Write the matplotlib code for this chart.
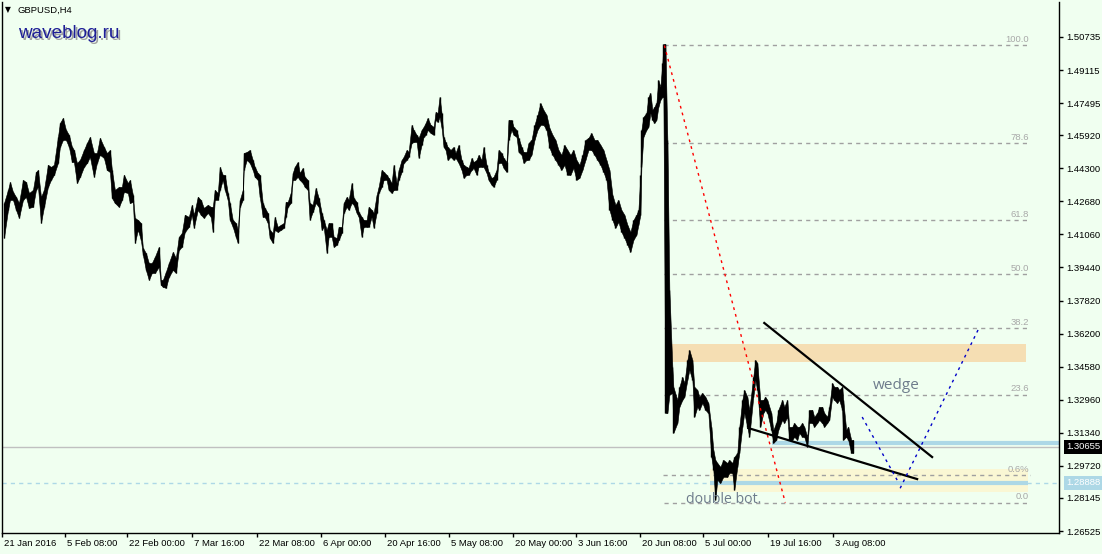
import numpy as np
import matplotlib
matplotlib.use("Agg")
import matplotlib.pyplot as plt
from matplotlib.transforms import blended_transform_factory, ScaledTranslation

plt.rcParams['font.family'] = ['Liberation Sans', 'DejaVu Sans']

# GBPUSD H4 - position of each sample (bar number) with high / low
bar_pos = [3, 7, 9, 12, 15, 18, 22, 25, 28, 32, 35, 37, 40, 43, 47, 50, 53, 57, 59, 62,
           65, 68, 71, 73, 76, 79, 83, 86, 89, 93, 96, 99, 103, 106, 109,
           111, 114, 118, 121, 123, 127, 129, 132, 134, 137, 140, 142, 145, 148, 151, 154, 158, 160, 162, 165,
           168, 172, 175, 178, 181, 184, 188, 191, 193, 197, 200, 203, 207, 210,
           212, 214, 217, 219, 222, 224, 227, 229, 232, 235, 237, 239, 242, 243, 246, 249, 252, 254, 257, 259,
           262, 264, 267, 269, 272, 274, 277, 280, 283, 285, 287, 290, 292, 294, 297, 299, 302, 304, 307, 309, 312,
           315, 318, 321, 323, 326, 328, 331, 333, 336, 338, 341, 343, 346, 348, 351, 353, 356, 358, 361, 363,
           366, 368, 371, 373, 376, 378, 381, 383, 386, 388, 391, 393, 396, 398, 401, 403, 406, 408, 411, 413, 416, 418,
           421, 423, 425, 427, 430, 433, 435, 437, 439, 441, 443, 445, 447, 450, 453, 455, 458, 461, 463, 466,
           468, 471, 473, 476, 478, 481, 483, 486, 488, 491, 493, 496, 498, 501, 503, 506, 508, 511, 513, 516,
           518, 521, 523, 526, 528,
           531, 534, 537, 540, 543, 546, 549, 552, 555, 558, 561, 564, 567, 570, 573, 576, 579, 582, 585, 588,
           591, 594, 597, 600, 603, 606, 609, 612, 615, 618, 621, 624, 627, 630, 633, 636, 638,
           640, 641, 643, 646, 648, 650, 652, 654, 656, 658, 660, 662, 663, 665, 667, 669, 672, 673, 677, 679,
           682, 684, 687, 689, 692, 694, 697, 699, 702, 705, 708, 711, 713, 715, 717, 720, 723, 727, 729, 732,
           734, 737, 739, 742, 744, 747, 749, 753, 755, 757, 760, 763, 765, 767, 771, 773, 776, 778, 782, 784,
           787, 789, 792, 794, 797, 799, 802, 804, 807, 809, 812, 814, 817, 819, 822, 824, 827, 829, 832, 834,
           837, 839, 842, 843, 846, 848, 851, 853]

bar_high = [1.4260, 1.4324, 1.4363, 1.4314, 1.4290, 1.4260, 1.4373, 1.4363, 1.4309, 1.4324,
            1.4412, 1.4422, 1.4290, 1.4324, 1.4447, 1.4437, 1.4447, 1.4584, 1.4652, 1.4677,
            1.4618, 1.4594, 1.4535, 1.4520, 1.4456, 1.4471, 1.4520, 1.4554, 1.4584, 1.4505,
            1.4505, 1.4579, 1.4535, 1.4505, 1.4520,
            1.4422, 1.4324, 1.4339, 1.4339, 1.4398, 1.4358, 1.4373, 1.4300, 1.4187, 1.4177,
            1.4162, 1.4040, 1.4015, 1.3966, 1.3966, 1.3996, 1.4045, 1.3883, 1.3883, 1.3922,
            1.3966, 1.4020, 1.3991, 1.4094, 1.4113, 1.4202, 1.4192, 1.4251, 1.4202, 1.4290,
            1.4275, 1.4236, 1.4251, 1.4241,
            1.4241, 1.4324, 1.4309, 1.4437, 1.4398, 1.4398, 1.4309, 1.4260, 1.4177, 1.4162,
            1.4128, 1.4275, 1.4324, 1.4505, 1.4510, 1.4520, 1.4471, 1.4437, 1.4407, 1.4398,
            1.4260, 1.4236, 1.4211, 1.4128, 1.4113, 1.4192, 1.4143, 1.4153, 1.4162, 1.4265,
            1.4265, 1.4309, 1.4407, 1.4437, 1.4461, 1.4407, 1.4432, 1.4388, 1.4373, 1.4260, 1.4251,
            1.4334, 1.4285, 1.4211, 1.4177, 1.4128, 1.4162, 1.4162, 1.4094, 1.4089, 1.4143,
            1.4143, 1.4260, 1.4290, 1.4275, 1.4358, 1.4285, 1.4265, 1.4216, 1.4192, 1.4177,
            1.4177, 1.4241, 1.4226, 1.4211, 1.4300, 1.4339, 1.4422, 1.4412, 1.4398, 1.4383,
            1.4358, 1.4447, 1.4358, 1.4422, 1.4471, 1.4486, 1.4520, 1.4510, 1.4643, 1.4618,
            1.4594, 1.4579,
            1.4618, 1.4633, 1.4652, 1.4677, 1.4643, 1.4633, 1.4706, 1.4701, 1.4780, 1.4701,
            1.4584, 1.4559, 1.4535, 1.4520, 1.4535, 1.4505, 1.4545, 1.4471, 1.4447, 1.4437,
            1.4432, 1.4481, 1.4461, 1.4471, 1.4496, 1.4471, 1.4535, 1.4447, 1.4412, 1.4383,
            1.4388, 1.4422, 1.4520, 1.4505, 1.4481, 1.4461, 1.4667, 1.4667, 1.4633, 1.4618,
            1.4579, 1.4535, 1.4510, 1.4510, 1.4554,
            1.4569, 1.4643, 1.4692, 1.4750, 1.4716, 1.4692, 1.4628, 1.4594, 1.4569, 1.4520,
            1.4496, 1.4545, 1.4520, 1.4496, 1.4520, 1.4471, 1.4447, 1.4496, 1.4569, 1.4579,
            1.4603, 1.4569, 1.4569, 1.4545, 1.4520, 1.4471, 1.4422, 1.4300, 1.4251, 1.4275,
            1.4226, 1.4202, 1.4153, 1.4118, 1.4177, 1.4202, 1.4226,
            1.4398, 1.4618, 1.4682, 1.4701, 1.4780, 1.4799, 1.4716, 1.4731, 1.4750, 1.4863,
            1.4829, 1.4946, 1.5039, 1.5039, 1.4569, 1.3834, 1.3457, 1.3359, 1.3295, 1.3359,
            1.3408, 1.3378, 1.3491, 1.3540, 1.3491, 1.3359, 1.3344, 1.3310, 1.3329, 1.3310,
            1.3280, 1.3163, 1.3050, 1.3001, 1.2986, 1.2967, 1.3001, 1.2986, 1.3001, 1.2986,
            1.3016, 1.3035, 1.3163, 1.3295, 1.3344, 1.3310, 1.3246, 1.3408, 1.3491, 1.3476,
            1.3295, 1.3295, 1.3310, 1.3295, 1.3231, 1.3148, 1.3182, 1.3246, 1.3295, 1.3261,
            1.3295, 1.3163, 1.3163, 1.3182, 1.3163, 1.3163, 1.3182, 1.3163, 1.3114, 1.3246,
            1.3246, 1.3212, 1.3231, 1.3261, 1.3261, 1.3231, 1.3212, 1.3261, 1.3378, 1.3359,
            1.3359, 1.3344, 1.3359, 1.3295, 1.3148, 1.3163, 1.3099, 1.3099]

bar_low = [1.4089, 1.4226, 1.4275, 1.4275, 1.4226, 1.4187, 1.4275, 1.4290, 1.4236, 1.4241,
           1.4324, 1.4339, 1.4162, 1.4241, 1.4339, 1.4373, 1.4398, 1.4456, 1.4535, 1.4569,
           1.4569, 1.4535, 1.4461, 1.4461, 1.4358, 1.4388, 1.4437, 1.4456, 1.4486, 1.4388,
           1.4456, 1.4496, 1.4481, 1.4422, 1.4412,
           1.4285, 1.4260, 1.4241, 1.4275, 1.4314, 1.4309, 1.4260, 1.4265, 1.4064, 1.4128,
           1.4079, 1.4006, 1.3932, 1.3883, 1.3917, 1.3917, 1.3947, 1.3859, 1.3849, 1.3844,
           1.3898, 1.3932, 1.3917, 1.4030, 1.4045, 1.4118, 1.4143, 1.4202, 1.4138, 1.4226,
           1.4202, 1.4187, 1.4211, 1.4192,
           1.4118, 1.4275, 1.4275, 1.4324, 1.4373, 1.4324, 1.4275, 1.4177, 1.4143, 1.4094,
           1.4064, 1.4241, 1.4275, 1.4422, 1.4471, 1.4456, 1.4422, 1.4388, 1.4373, 1.4290,
           1.4192, 1.4192, 1.4162, 1.4089, 1.4064, 1.4128, 1.4118, 1.4128, 1.4138, 1.4192,
           1.4241, 1.4260, 1.4373, 1.4373, 1.4388, 1.4373, 1.4358, 1.4339, 1.4324, 1.4177, 1.4216,
           1.4260, 1.4241, 1.4128, 1.4143, 1.4015, 1.4094, 1.4094, 1.4045, 1.4055, 1.4079,
           1.4113, 1.4211, 1.4241, 1.4226, 1.4260, 1.4251, 1.4211, 1.4192, 1.4094, 1.4143,
           1.4143, 1.4143, 1.4192, 1.4138, 1.4211, 1.4309, 1.4339, 1.4373, 1.4373, 1.4324,
           1.4309, 1.4324, 1.4324, 1.4373, 1.4412, 1.4456, 1.4471, 1.4486, 1.4554, 1.4559,
           1.4559, 1.4481,
           1.4545, 1.4584, 1.4594, 1.4618, 1.4603, 1.4594, 1.4667, 1.4657, 1.4682, 1.4628,
           1.4535, 1.4520, 1.4471, 1.4486, 1.4471, 1.4481, 1.4456, 1.4422, 1.4383, 1.4398,
           1.4398, 1.4422, 1.4432, 1.4398, 1.4437, 1.4437, 1.4437, 1.4407, 1.4373, 1.4349,
           1.4339, 1.4373, 1.4456, 1.4456, 1.4432, 1.4412, 1.4569, 1.4618, 1.4594, 1.4584,
           1.4510, 1.4496, 1.4456, 1.4471, 1.4471,
           1.4496, 1.4569, 1.4618, 1.4643, 1.4643, 1.4618, 1.4530, 1.4496, 1.4471, 1.4447,
           1.4422, 1.4447, 1.4398, 1.4398, 1.4432, 1.4373, 1.4383, 1.4422, 1.4471, 1.4520,
           1.4520, 1.4496, 1.4471, 1.4447, 1.4412, 1.4373, 1.4226, 1.4177, 1.4138, 1.4167,
           1.4118, 1.4089, 1.4055, 1.4020, 1.4079, 1.4104, 1.4153,
           1.4202, 1.4437, 1.4584, 1.4618, 1.4633, 1.4701, 1.4667, 1.4652, 1.4667, 1.4731,
           1.4765, 1.4780, 1.4780, 1.3231, 1.3231, 1.3320, 1.3329, 1.3133, 1.3182, 1.3261,
           1.3295, 1.3310, 1.3393, 1.3442, 1.3393, 1.3212, 1.3261, 1.3246, 1.3280, 1.3246,
           1.3231, 1.3016, 1.2952, 1.2805, 1.2903, 1.2888, 1.2918, 1.2918, 1.2937, 1.2937,
           1.2854, 1.2967, 1.3035, 1.3163, 1.3231, 1.3163, 1.3114, 1.3310, 1.3393, 1.3344,
           1.3163, 1.3231, 1.3246, 1.3231, 1.3148, 1.3084, 1.3099, 1.3148, 1.3197, 1.3182,
           1.3212, 1.3099, 1.3099, 1.3114, 1.3099, 1.3133, 1.3114, 1.3114, 1.3065, 1.3182,
           1.3182, 1.3163, 1.3182, 1.3197, 1.3182, 1.3163, 1.3182, 1.3197, 1.3310, 1.3295,
           1.3280, 1.3295, 1.3246, 1.3099, 1.3114, 1.3099, 1.3035, 1.3035]

# axis labels
price_ticks = ['1.50735', '1.49115', '1.47495', '1.45920', '1.44300', '1.42680', '1.41060', '1.39440',
               '1.37820', '1.36200', '1.34580', '1.32960', '1.31340', '1.29720', '1.28145', '1.26525']
date_pos = [1, 64, 126, 191, 256, 320, 384, 448, 512, 576, 640, 703, 768, 833]
date_labels = ['21 Jan 2016', '5 Feb 08:00', '22 Feb 00:00', '7 Mar 16:00', '22 Mar 08:00', '6 Apr 00:00',
               '20 Apr 16:00', '5 May 08:00', '20 May 00:00', '3 Jun 16:00', '20 Jun 08:00', '5 Jul 00:00',
               '19 Jul 16:00', '3 Aug 08:00']

# fibonacci + drawn objects
fib_start, fib_end = 664, 785
fib_high, fib_low = 1.5032, 1.2792
fib_levels = [0.0, 23.6, 38.2, 50.0, 61.8, 78.6, 100.0]
last_price = 1.30655
support_price = 1.28888
pct_line = 1.2927
supply_zone = (670, 1026, 1.3481, 1.3569)
demand_zone = (710, 1028, 1.2844, 1.2956)
wedge_top = ([764, 932], [1.3672, 1.3015])
wedge_bottom = ([748, 917], [1.3157, 1.2907])
path_down = ([862, 897], [1.3211, 1.2902])
path_up = ([900, 978], [1.2862, 1.3638])

fs = 6.8
bg = '#F0FFF0'
fig = plt.figure(figsize=(11.02, 5.54), dpi=100, facecolor=bg)
ax = fig.add_axes([2 / 1102, 21 / 554, 1057 / 1102, 531 / 554], facecolor=bg)
ax.set_xlim(2, 1059)
ax.set_ylim(1.26427, 1.52450)

# zones
for x0, x1, y0, y1, col in [(*supply_zone, '#F5DEB3'), (*demand_zone, '#FAF7D4')]:
    ax.fill_between([x0, x1], y0, y1, color=col, lw=0, zorder=1)

# fibo levels
rng = fib_high - fib_low
for lv in fib_levels:
    p = fib_low + rng * lv / 100
    ax.plot([fib_start, 1030], [p, p], color='#A0A0A0', lw=1, ls=(0, (3, 3)), zorder=1.5)
    ax.text(1029, p + 0.0006, f'{lv:.1f}', ha='right', va='bottom', fontsize=fs, color='#A8A8A8')
ax.plot([fib_start - 1, 1030], [pct_line, pct_line], color='#A0A0A0', lw=1, ls=(0, (3, 3)), zorder=1.5)
ax.text(1029, pct_line + 0.0006, '0.6%', ha='right', va='bottom', fontsize=fs, color='#A8A8A8')
ax.plot([fib_start, fib_end], [fib_high, fib_low], color='red', lw=1, ls=(0, (2, 3)), zorder=4)

# price lines
ax.axhline(last_price, color='#C0C0C0', lw=1, zorder=1.6)
ax.axhline(support_price, color='#ADD8E6', lw=1, ls=(0, (3, 3)), zorder=1.6)
ax.plot([772, 1059], [1.30837, 1.30837], color='#ADD8E6', lw=3, zorder=2, solid_capstyle='butt')
ax.plot([710, 1028], [support_price, support_price], color='#ADD8E6', lw=3, zorder=2,
        solid_capstyle='butt')

# bars
x = np.array(bar_pos)
hi = np.array(bar_high)
lo = np.array(bar_low)
ax.fill_between(x, lo, hi, color='black', lw=0.4, zorder=3)
ax.vlines(x, lo, hi, color='black', lw=1.0, zorder=3)

# wedge and projection
ax.plot(*wedge_top, color='black', lw=1.6, zorder=4)
ax.plot(*wedge_bottom, color='black', lw=1.6, zorder=4)
ax.plot(*path_down, color='#0000C8', lw=1, ls=(0, (2, 3)), zorder=4)
ax.plot(*path_up, color='#0000C8', lw=1, ls=(0, (2, 3)), zorder=4)

ax.text(873, 1.3368, 'wedge', fontsize=11, color='#6E7C8C', family='Open Sans', va='center')
ax.text(686, 1.2809, 'double bot.', fontsize=10.2, color='#6E7C8C', family='Open Sans', va='center')

# axes look
ax.spines['top'].set_visible(False)
for s in ['left', 'right', 'bottom']:
    ax.spines[s].set_color('black')
    ax.spines[s].set_linewidth(1)
ax.yaxis.tick_right()
ax.set_yticks([float(t) for t in price_ticks])
ax.set_yticklabels(price_ticks)
ax.set_xticks(date_pos)
ax.set_xticklabels(date_labels)
ax.tick_params(axis='y', direction='out', length=3, width=1, pad=2, labelsize=fs, colors='black')
ax.tick_params(axis='x', direction='out', length=3, width=1, pad=1.5, labelsize=fs, colors='black')
for lbl in ax.get_xticklabels():
    lbl.set_ha('left')
    lbl.set_transform(lbl.get_transform() + ScaledTranslation(2 / 100, 0, fig.dpi_scale_trans))

# price boxes on the scale
tr = blended_transform_factory(ax.transAxes, ax.transData)
ax.text(1.0066, last_price, f'{last_price:.5f}', transform=tr, va='center', ha='left', fontsize=fs,
        color='white', bbox=dict(boxstyle='square,pad=0.25', fc='black', ec='none'), clip_on=False)
ax.text(1.0066, support_price, f'{support_price:.5f}', transform=tr, va='center', ha='left', fontsize=fs,
        color='white', bbox=dict(boxstyle='square,pad=0.25', fc='#ADD8E6', ec='none'), clip_on=False)

# header
fig.text(5 / 1102, 1 - 10 / 554, '▼', fontsize=5.5, family='DejaVu Sans', va='center', color='black')
fig.text(17 / 1102, 1 - 10 / 554, 'GBPUSD,H4', fontsize=fs, va='center', color='black')
fig.text(20 / 1102, 1 - 35 / 554, 'waveblog.ru', fontsize=13.6, family='Liberation Sans',
         va='center', color='#A0A0A0')
fig.text(18 / 1102, 1 - 33 / 554, 'waveblog.ru', fontsize=13.6, family='Liberation Sans',
         va='center', color='#1E1E96')

fig.savefig('out.png', dpi=100, facecolor=bg)
